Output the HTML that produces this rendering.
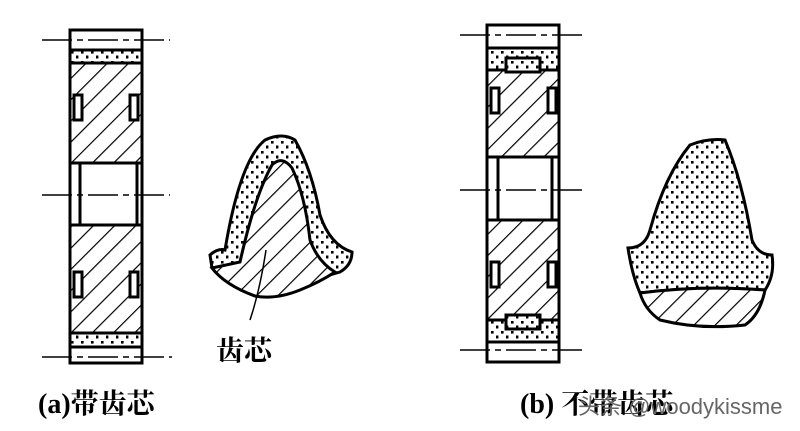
<!DOCTYPE html>
<html><head><meta charset="utf-8"><style>
html,body{margin:0;padding:0;background:#fff;width:800px;height:431px;overflow:hidden}
svg{display:block}
</style></head><body>
<svg width="800" height="431" viewBox="0 0 800 431" xmlns="http://www.w3.org/2000/svg">
<defs>
<pattern id="h" width="15" height="15" patternUnits="userSpaceOnUse" patternTransform="rotate(45)">
<rect width="15" height="15" fill="#fff"/><line x1="0" y1="0" x2="0" y2="15" stroke="#000" stroke-width="2.4"/></pattern>
<pattern id="d" width="10" height="10" patternUnits="userSpaceOnUse">
<rect width="10" height="10" fill="#fff"/>
<rect x="1" y="1" width="2.6" height="2.6" fill="#000"/><rect x="6" y="5.5" width="2.4" height="3" fill="#000"/></pattern>
</defs>
<g stroke="#000" stroke-width="3" fill="none">
<!-- gear a -->
<rect x="70" y="50" width="72" height="13" fill="url(#d)"/>
<rect x="70" y="333" width="72" height="14" fill="url(#d)"/>
<rect x="70" y="63" width="72" height="100" fill="url(#h)"/>
<rect x="70" y="225" width="72" height="108" fill="url(#h)"/>
<rect x="70" y="30" width="72" height="333"/>
<rect x="80" y="163" width="57" height="62" fill="#fff"/>
<rect x="74" y="95" width="8" height="25" fill="#fff"/><rect x="130" y="95" width="8" height="25" fill="#fff"/>
<rect x="74" y="272" width="8" height="25" fill="#fff"/><rect x="130" y="272" width="8" height="25" fill="#fff"/>
<!-- gear b -->
<rect x="487" y="48" width="72" height="22" fill="url(#d)"/>
<rect x="487" y="320" width="72" height="22" fill="url(#d)"/>
<rect x="487" y="70" width="72" height="87" fill="url(#h)"/>
<rect x="487" y="220" width="72" height="100" fill="url(#h)"/>
<rect x="506" y="58" width="34" height="14" fill="url(#d)"/>
<rect x="506" y="315" width="34" height="14" fill="url(#d)"/>
<rect x="487" y="25" width="72" height="337"/>
<rect x="498" y="157" width="54" height="63" fill="#fff"/>
<rect x="491" y="88" width="8" height="25" fill="#fff"/><rect x="548" y="88" width="8" height="25" fill="#fff"/>
<rect x="491" y="262" width="8" height="25" fill="#fff"/><rect x="548" y="262" width="8" height="25" fill="#fff"/>
</g>
<g stroke="#000" stroke-width="1.5" stroke-dasharray="30 5 6 5">
<line x1="42" y1="40" x2="170" y2="40"/><line x1="42" y1="195" x2="170" y2="195"/><line x1="42" y1="357" x2="172" y2="357"/>
<line x1="460" y1="35" x2="585" y2="35"/><line x1="460" y1="190" x2="585" y2="190"/><line x1="460" y1="350" x2="585" y2="350"/>
</g>
<!-- tooth a -->
<g stroke="#000" stroke-width="3">
<path d="M210,255 Q218,248 225,250 Q240,160 265,140 Q282,132 295,140 Q312,170 320,215 Q330,245 352,252 Q352,265 340,272 Q320,278 310,280 Q280,300 255,296 Q225,285 212,268 Z" fill="url(#d)"/>
<path d="M240,262 Q255,195 272,165 Q282,155 292,168 Q305,195 310,240 Q318,262 335,272 Q320,282 300,290 Q275,300 255,296 Q225,285 212,268 Z" fill="url(#h)"/>
</g>
<path d="M266,250 Q260,290 250,320" stroke="#000" stroke-width="1.5" fill="none"/>
<!-- tooth b -->
<g stroke="#000" stroke-width="3">
<path d="M628,248 Q645,248 650,230 Q665,175 690,145 Q708,138 725,140 Q742,180 752,240 Q758,255 772,255 Q775,275 765,290 Q700,285 640,293 Q632,275 628,248 Z" fill="url(#d)"/>
<path d="M640,293 Q700,285 765,290 Q760,315 745,325 Q700,330 660,320 Q645,310 640,293 Z" fill="url(#h)"/>
</g>
<g font-family="'Liberation Serif','Noto Serif CJK SC',serif" fill="#000" font-weight="bold">
<text x="216" y="360" font-size="28">齿芯</text>
<text x="38" y="413" font-size="28">(a)带齿芯</text>
<text x="520" y="413" font-size="28">(b) 不带齿芯</text>
</g>
<text x="578" y="414" font-family="'Liberation Sans','Noto Sans CJK SC',sans-serif" font-size="22" fill="#666">头条 @woodykissme</text>
</svg>
</body></html>
